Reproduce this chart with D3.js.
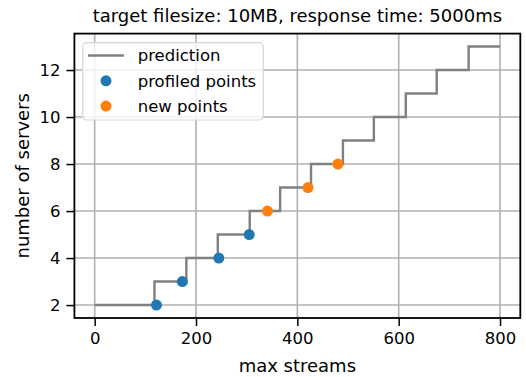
<!DOCTYPE html>
<html>
<head>
<meta charset="utf-8">
<script src="https://cdn.jsdelivr.net/npm/d3@7"></script>
<style>
  html, body { margin: 0; padding: 0; background: #fff; }
  svg { display: block; font-family: "DejaVu Sans", sans-serif; }
</style>
</head>
<body>
<svg id="chart" width="526" height="377"></svg>
<script>
// Predicted server count: value changes at each breakpoint (step-after)
const predX = [0, 118, 181, 243, 306, 366, 427, 490, 551, 614, 675, 738, 800];
const predY = [2, 3, 4, 5, 6, 7, 8, 9, 10, 11, 12, 13, 13];

// Measured points
const profiledX = [122, 173, 245, 305];
const profiledY = [2, 3, 4, 5];
const newX = [341, 421, 480];
const newY = [6, 7, 8];

const xTicks = [0, 200, 400, 600, 800];
const yTicks = [2, 4, 6, 8, 10, 12];

const titleText = "target filesize: 10MB, response time: 5000ms";
const xLabel = "max streams";
const yLabel = "number of servers";

const plotLeft = 74.4, plotRight = 520.3, plotTop = 33.6, plotBottom = 318;
const svg = d3.select("#chart");

const x = d3.scaleLinear().domain([-40, 840]).range([plotLeft, plotRight]);
const y = d3.scaleLinear().domain([1.45, 13.55]).range([plotBottom, plotTop]);

const grid = "#b0b0b0";

// grid lines
svg.append("g").selectAll("line").data(xTicks).join("line")
  .attr("x1", d => x(d)).attr("x2", d => x(d))
  .attr("y1", plotTop).attr("y2", plotBottom)
  .attr("stroke", grid).attr("stroke-width", 1.6);
svg.append("g").selectAll("line").data(yTicks).join("line")
  .attr("x1", plotLeft).attr("x2", plotRight)
  .attr("y1", d => y(d)).attr("y2", d => y(d))
  .attr("stroke", grid).attr("stroke-width", 1.6);

// prediction step line
const line = d3.line().x((d, i) => x(predX[i])).y(d => y(d)).curve(d3.curveStepAfter);
svg.append("path").datum(predY)
  .attr("d", line)
  .attr("fill", "none")
  .attr("stroke", "#808080")
  .attr("stroke-width", 2.4);

// scatter points
svg.append("g").selectAll("circle").data(profiledY).join("circle")
  .attr("cx", (d, i) => x(profiledX[i])).attr("cy", d => y(d))
  .attr("r", 5.5).attr("fill", "#1f77b4");
svg.append("g").selectAll("circle").data(newY).join("circle")
  .attr("cx", (d, i) => x(newX[i])).attr("cy", d => y(d))
  .attr("r", 5.5).attr("fill", "#ff7f0e");

// axes
const xAxis = d3.axisBottom(x).tickValues(xTicks).tickSize(8).tickPadding(6);
const yAxis = d3.axisLeft(y).tickValues(yTicks).tickSize(8).tickPadding(6);

const gx = svg.append("g").attr("transform", `translate(0,${plotBottom})`).call(xAxis);
const gy = svg.append("g").attr("transform", `translate(${plotLeft},0)`).call(yAxis);
[gx, gy].forEach(g => {
  g.select(".domain").remove();
  g.selectAll(".tick line").attr("stroke", "#000").attr("stroke-width", 1.5);
  g.selectAll(".tick text").attr("font-size", "16.5px").attr("fill", "#000")
    .attr("font-family", "DejaVu Sans");
});

// frame
svg.append("rect")
  .attr("x", plotLeft).attr("y", plotTop)
  .attr("width", plotRight - plotLeft).attr("height", plotBottom - plotTop)
  .attr("fill", "none").attr("stroke", "#000").attr("stroke-width", 1.8);

// title and labels
svg.append("text")
  .attr("x", (plotLeft + plotRight) / 2).attr("y", 22)
  .attr("text-anchor", "middle").attr("font-size", "18px")
  .text(titleText);
svg.append("text")
  .attr("x", (plotLeft + plotRight) / 2).attr("y", 371.5)
  .attr("text-anchor", "middle").attr("font-size", "18px")
  .text(xLabel);
svg.append("text")
  .attr("transform", `translate(28.5,${(plotTop + plotBottom) / 2}) rotate(-90)`)
  .attr("text-anchor", "middle").attr("font-size", "18px")
  .text(yLabel);

// legend
const lg = svg.append("g");
lg.append("rect")
  .attr("x", 82.7).attr("y", 42.7).attr("width", 180.6).attr("height", 77.3)
  .attr("rx", 4).attr("ry", 4)
  .attr("fill", "#fff").attr("fill-opacity", 0.8)
  .attr("stroke", "#d6d6d6").attr("stroke-width", 1.2);
const items = [
  { label: "prediction", kind: "line", color: "#808080" },
  { label: "profiled points", kind: "dot", color: "#1f77b4" },
  { label: "new points", kind: "dot", color: "#ff7f0e" }
];
items.forEach((it, i) => {
  const cy = 55.5 + i * 25.3;
  if (it.kind === "line") {
    lg.append("line").attr("x1", 88).attr("x2", 124).attr("y1", cy).attr("y2", cy)
      .attr("stroke", it.color).attr("stroke-width", 2.4);
  } else {
    lg.append("circle").attr("cx", 106).attr("cy", cy).attr("r", 5.5).attr("fill", it.color);
  }
  lg.append("text").attr("x", 137.7).attr("y", cy).attr("dy", "0.35em")
    .attr("font-size", "16.5px").text(it.label);
});
</script>
</body>
</html>
